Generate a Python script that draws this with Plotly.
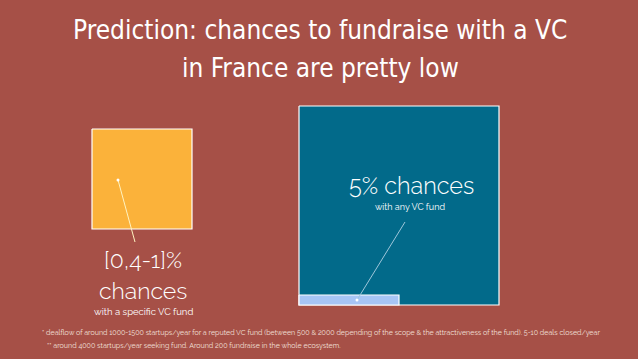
import plotly.graph_objects as go

# ---- data ----
labels = ["[0,4-1]%", "chances", "5% chances"]
sublabels = ["with a specific VC fund", "with any VC fund"]
chance_pct = [1, 5]          # upper-bound chance (percent)
square_names = ["specific VC fund", "any VC fund", "fundraises"]
title_lines = ["Prediction: chances to fundraise with a VC", "in France are pretty low"]
footnotes = [
    "* dealflow of around 1000-1500 startups/year for a reputed VC fund (between 500 & 2000 depending of the scope & the attractiveness of the fund). 5-10 deals closed/year",
    "** around 4000 startups/year seeking fund. Around 200 fundraise in the whole ecosystem.",
]

# ---- style / layout (pixel coordinates) ----
W, H = 638, 359
BG = "#A65047"
colors = ["#FBB23A", "#026A8A", "#A7C5F5"]
rects = [  # x0, x1, y0, y1
    (92, 192, 129, 229),
    (299, 499, 106, 305),
    (299, 399, 295, 305),
]

fig = go.Figure()
for (x0, x1, y0, y1), c, name in zip(rects, colors, square_names):
    fig.add_trace(go.Scatter(
        x=[x0, x1, x1, x0, x0], y=[y0, y0, y1, y1, y0],
        mode="lines", fill="toself", fillcolor=c,
        line=dict(color="white", width=1.2), name=name, hoverinfo="name",
    ))

# pointer lines
pointers = [((118, 180), (135, 242), "#FFF3C0"), ((357, 300), (405, 222), "#9FC6DA")]
for (x0, y0), (x1, y1), c in pointers:
    fig.add_trace(go.Scatter(x=[x0, x1], y=[y0, y1], mode="lines",
                             line=dict(color=c, width=1), hoverinfo="skip"))
    fig.add_trace(go.Scatter(x=[x0], y=[y0], mode="markers",
                             marker=dict(color="white", size=3), hoverinfo="skip"))

TXT = "Raleway, Lato, 'Open Sans', sans-serif"
ann = []
# left labels
ann.append(dict(x=143, y=275, yanchor="bottom", text=labels[0], font=dict(size=23, color="white", family=TXT, weight=300)))
ann.append(dict(x=143, y=275, yanchor="top", text=labels[1], font=dict(size=23, color="white", family=TXT, weight=300)))
ann.append(dict(x=143, y=304, yanchor="top", text=sublabels[0], font=dict(size=9.5, color="white", family=TXT)))
# right labels
ann.append(dict(x=411, y=201, yanchor="bottom", text=labels[2], font=dict(size=23.5, color="white", family=TXT, weight=300)))
ann.append(dict(x=410, y=200, yanchor="top", text=sublabels[1], font=dict(size=9, color="white", family=TXT)))
# title
TF = "'Liberation Sans Narrow', 'DejaVu Sans Condensed', 'Roboto', sans-serif"
ann.append(dict(x=320, y=30, text=title_lines[0], font=dict(size=26, color="white", family=TF, weight=400)))
ann.append(dict(x=320, y=68, text=title_lines[1], font=dict(size=26, color="white", family=TF, weight=400)))
# footnotes
ann.append(dict(x=40, y=332.5, text=footnotes[0], xanchor="left", font=dict(size=7.1, color="#F3E1DE", family=TXT)))
ann.append(dict(x=45, y=345, text=footnotes[1], xanchor="left", font=dict(size=7.1, color="#F3E1DE", family=TXT)))

for a in ann:
    a.setdefault("xanchor", "center")
    a.setdefault("yanchor", "middle")
    a.update(xref="x", yref="y", showarrow=False)

fig.update_layout(
    width=W, height=H, margin=dict(l=0, r=0, t=0, b=0),
    paper_bgcolor=BG, plot_bgcolor=BG, showlegend=False,
    xaxis=dict(range=[0, W], visible=False, fixedrange=True),
    yaxis=dict(range=[H, 0], visible=False, fixedrange=True),
    annotations=ann,
)
fig.write_html("out.html", config={"displayModeBar": False},
               post_script="document.body.style.margin='0';document.body.style.background='" + BG + "';")
